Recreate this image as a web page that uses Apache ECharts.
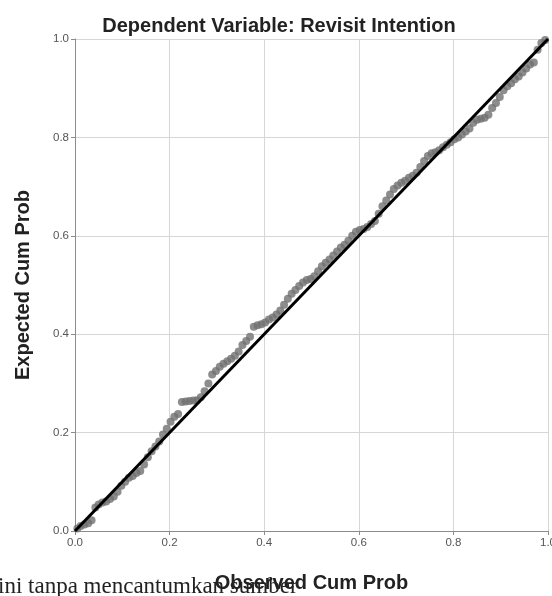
<!DOCTYPE html>
<html>
<head>
<meta charset="utf-8">
<script src="https://cdn.jsdelivr.net/npm/echarts@6/dist/echarts.min.js"></script>
<style>
  html, body { margin: 0; padding: 0; background: #fff; }
  #chart { width: 552px; height: 596px; }
</style>
</head>
<body>
<div id="chart"></div>
<script>
// P-P plot of regression standardized residuals
const observed = [
  0.005, 0.012, 0.020, 0.028, 0.035, 0.043, 0.050, 0.058, 0.066, 0.074,
  0.082, 0.090, 0.098, 0.106, 0.114, 0.122, 0.130, 0.138, 0.146, 0.154,
  0.162, 0.170, 0.178, 0.186, 0.194, 0.202, 0.210, 0.218, 0.226, 0.234,
  0.242, 0.250, 0.258, 0.266, 0.274, 0.282, 0.290, 0.298, 0.306, 0.314,
  0.322, 0.330, 0.338, 0.346, 0.354, 0.362, 0.370, 0.378, 0.386, 0.394,
  0.402, 0.410, 0.418, 0.426, 0.434, 0.442, 0.450, 0.458, 0.466, 0.474,
  0.482, 0.490, 0.498, 0.506, 0.514, 0.522, 0.530, 0.538, 0.546, 0.554,
  0.562, 0.570, 0.578, 0.586, 0.594, 0.602, 0.610, 0.618, 0.626, 0.634,
  0.642, 0.650, 0.658, 0.666, 0.674, 0.682, 0.690, 0.698, 0.706, 0.714,
  0.722, 0.730, 0.738, 0.746, 0.754, 0.762, 0.770, 0.778, 0.786, 0.794,
  0.802, 0.810, 0.818, 0.826, 0.834, 0.842, 0.850, 0.858, 0.866, 0.874,
  0.882, 0.890, 0.898, 0.906, 0.914, 0.922, 0.930, 0.938, 0.946, 0.954,
  0.962, 0.970, 0.978, 0.986, 0.994
];
const expected = [
  0.005, 0.010, 0.013, 0.016, 0.022, 0.048, 0.054, 0.058, 0.060, 0.065,
  0.070, 0.080, 0.092, 0.100, 0.108, 0.112, 0.118, 0.122, 0.135, 0.150,
  0.162, 0.172, 0.182, 0.196, 0.208, 0.222, 0.232, 0.238, 0.262, 0.263,
  0.264, 0.265, 0.266, 0.272, 0.284, 0.300, 0.318, 0.325, 0.334, 0.340,
  0.345, 0.350, 0.356, 0.365, 0.378, 0.386, 0.395, 0.415, 0.418, 0.420,
  0.424, 0.430, 0.434, 0.440, 0.448, 0.460, 0.472, 0.482, 0.490, 0.498,
  0.505, 0.510, 0.512, 0.518, 0.528, 0.538, 0.545, 0.552, 0.560, 0.568,
  0.576, 0.582, 0.590, 0.600, 0.608, 0.612, 0.614, 0.618, 0.624, 0.630,
  0.645, 0.660, 0.672, 0.684, 0.695, 0.702, 0.708, 0.712, 0.718, 0.722,
  0.728, 0.740, 0.752, 0.762, 0.768, 0.770, 0.774, 0.780, 0.785, 0.790,
  0.796, 0.800, 0.806, 0.812, 0.818, 0.830, 0.836, 0.838, 0.840, 0.846,
  0.860, 0.870, 0.882, 0.896, 0.904, 0.910, 0.918, 0.924, 0.932, 0.940,
  0.948, 0.952, 0.978, 0.992, 0.998
];
const refLine = [[0, 0], [1, 1]];

const chartTitle = 'Dependent Variable: Revisit Intention';
const xName = 'Observed Cum Prob';
const yName = 'Expected Cum Prob';
const captionText = 'ini tanpa mencantumkan sumber';

const points = observed.map((o, i) => [o, expected[i]]);

function valueAxis(name, gap) {
  return {
    type: 'value',
    min: 0,
    max: 1,
    interval: 0.2,
    name: name,
    nameLocation: 'middle',
    nameGap: gap,
    nameTextStyle: {
      fontFamily: 'Liberation Sans, Arial, sans-serif',
      fontSize: 20,
      fontWeight: 'bold',
      color: '#222'
    },
    axisLine: { show: true, lineStyle: { color: '#8c8c8c', width: 1 } },
    axisTick: { show: true, length: 4, lineStyle: { color: '#8c8c8c' } },
    axisLabel: {
      fontFamily: 'Liberation Sans, Arial, sans-serif',
      fontSize: 11.5,
      color: '#555',
      margin: 6,
      formatter: v => v.toFixed(1)
    },
    splitLine: { show: true, lineStyle: { color: '#d6d6d6', width: 1 } }
  };
}

const chart = echarts.init(document.getElementById('chart'), null, { renderer: 'canvas' });

chart.setOption({
  backgroundColor: '#fff',
  animation: false,
  title: {
    text: chartTitle,
    left: 274,
    textAlign: 'center',
    top: 11,
    textStyle: {
      fontFamily: 'Liberation Sans, Arial, sans-serif',
      fontSize: 20,
      fontWeight: 'bold',
      color: '#222'
    }
  },
  grid: { left: 75, right: 4, top: 39, bottom: 65, containLabel: false, outerBoundsMode: 'none' },
  xAxis: valueAxis(xName, 42),
  yAxis: valueAxis(yName, 42),
  graphic: [{
    type: 'text',
    left: -2,
    top: 575,
    style: {
      text: captionText,
      font: '23px "Liberation Serif", "DejaVu Serif", serif',
      fill: '#222'
    },
    z: -1
  }],
  series: [
    {
      type: 'scatter',
      data: points,
      symbolSize: 8,
      itemStyle: { color: '#707070' },
      z: 2
    },
    {
      type: 'line',
      data: refLine,
      showSymbol: false,
      lineStyle: { color: '#000', width: 3 },
      z: 3
    }
  ]
});
</script>
</body>
</html>
